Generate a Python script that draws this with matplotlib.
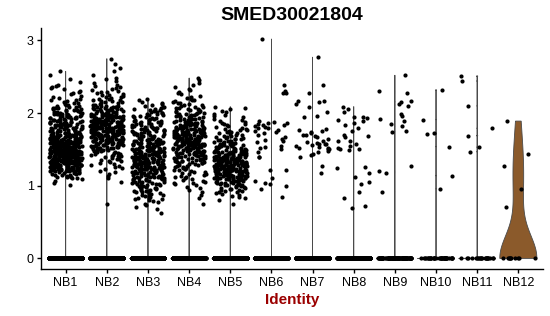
import numpy as np
import matplotlib
matplotlib.use("Agg")
import matplotlib.pyplot as plt

plt.rcParams['font.family'] = ['Liberation Sans', 'DejaVu Sans']

########################################
## DATA
########################################
gene = "SMED30021804"
clusters = ["NB1", "NB2", "NB3", "NB4", "NB5", "NB6",
            "NB7", "NB8", "NB9", "NB10", "NB11", "NB12"]

# cells with zero expression per cluster (estimated)
zero_counts = [3000, 2500, 2500, 2500, 2500, 800, 600, 500, 100, 40, 22, 10]

# dense clusters: number of expressing cells per 0.1-wide bin (bin start -> count)
nb1_bins = {1.0: 4, 1.1: 18, 1.2: 45, 1.3: 70, 1.4: 80, 1.5: 70, 1.6: 45,
            1.7: 30, 1.8: 28, 1.9: 25, 2.0: 18, 2.1: 10, 2.2: 6, 2.3: 6,
            2.4: 2, 2.5: 2}
nb2_bins = {0.7: 1, 1.0: 1, 1.1: 4, 1.2: 6, 1.3: 10, 1.4: 16, 1.5: 30,
            1.6: 42, 1.7: 50, 1.8: 48, 1.9: 38, 2.0: 25, 2.1: 14, 2.2: 10,
            2.3: 7, 2.4: 4, 2.5: 2, 2.6: 2, 2.7: 1}
nb3_bins = {0.6: 2, 0.7: 5, 0.8: 12, 0.9: 16, 1.0: 20, 1.1: 28, 1.2: 35,
            1.3: 42, 1.4: 38, 1.5: 30, 1.6: 25, 1.7: 22, 1.8: 18, 1.9: 15,
            2.0: 12, 2.1: 6}
nb4_bins = {0.7: 1, 0.8: 2, 0.9: 4, 1.0: 8, 1.1: 10, 1.2: 14, 1.3: 22,
            1.4: 32, 1.5: 40, 1.6: 42, 1.7: 36, 1.8: 28, 1.9: 20, 2.0: 14,
            2.1: 10, 2.2: 6, 2.3: 4, 2.4: 3}
nb5_bins = {0.7: 1, 0.8: 6, 0.9: 14, 1.0: 28, 1.1: 42, 1.2: 50, 1.3: 45,
            1.4: 35, 1.5: 22, 1.6: 15, 1.7: 12, 1.8: 8, 1.9: 6, 2.0: 5}

# sparse clusters: individual expressing cells
nb6_values = [3.02, 2.39, 2.30, 2.28, 2.27, 1.87, 1.84, 1.85, 1.89, 1.88,
              1.86, 1.84, 1.82, 1.80, 1.77, 1.74, 1.76, 1.79, 1.73, 1.70,
              1.81, 1.63, 1.61, 1.67, 1.64, 1.60, 1.55, 1.52, 1.53, 1.51,
              1.47, 1.40, 1.39, 1.22, 1.21, 1.10, 1.07, 1.03, 1.04, 0.99,
              0.96, 0.84]
nb7_values = [2.77, 2.39, 2.27, 2.17, 2.16, 2.15, 2.13, 2.09, 2.01, 1.96,
              1.94, 1.78, 1.74, 1.77, 1.75, 1.72, 1.70, 1.69, 1.70, 1.67,
              1.64, 1.62, 1.60, 1.59, 1.57, 1.58, 1.57, 1.56, 1.55, 1.52,
              1.53, 1.52, 1.51, 1.50, 1.48, 1.47, 1.44, 1.43, 1.40, 1.27,
              1.17]
nb8_values = [2.09, 2.06, 2.01, 1.94, 1.95, 1.93, 1.90, 1.89, 1.86, 1.83,
              1.79, 1.75, 1.70, 1.67, 1.68, 1.62, 1.61, 1.57, 1.55, 1.52,
              1.51, 1.50, 1.49, 1.26, 1.24, 1.17, 1.12, 1.05, 1.02, 0.92,
              0.83, 0.72, 0.70]
nb9_values = [2.52, 2.28, 2.30, 2.16, 2.12, 2.10, 2.15, 1.96, 1.92, 1.89,
              1.85, 1.99, 1.82, 1.74, 1.75, 1.27, 1.20, 1.18, 0.92]
nb10_values = [2.32, 1.91, 1.72, 1.71, 1.54, 1.14, 0.96]
nb11_values = [2.51, 2.44, 2.10, 1.79, 1.69, 1.53, 1.47]
nb12_values = [1.89, 1.44, 1.27, 0.95, 0.71]

violin_fills = ['#8c8c8c'] * 11 + ['#8B5A2B']


def expand_bins(bins, width=0.1):
    vals = []
    for lo, n in bins.items():
        vals.extend(lo + (np.arange(n) + 0.5) / n * width)
    return vals


def bw_nrd0(x):
    # R's bw.nrd0; Seurat adds tiny noise, so an IQR of 0 becomes ~1e-5
    hi = np.std(x, ddof=1)
    q75, q25 = np.percentile(x, [75, 25])
    lo = min(hi, (q75 - q25) / 1.34)
    if lo == 0:
        lo = 1e-5
    return 0.9 * lo * len(x) ** -0.2


def r_density(x, n=512):
    # binned gaussian KDE like stats::density, trimmed to data range
    bw = bw_nrd0(x)
    lo, up = x.min() - 4 * bw, x.max() + 4 * bw
    delta = (up - lo) / (n - 1)
    pos = (x - lo) / delta
    ix = np.floor(pos).astype(int)
    fx = pos - ix
    y = np.zeros(n + 1)
    np.add.at(y, ix, 1 - fx)
    np.add.at(y, np.minimum(ix + 1, n), fx)
    y = y[:n] / len(x)
    k = np.arange(-(n - 1), n) * delta
    kern = np.exp(-0.5 * (k / bw) ** 2) / (bw * np.sqrt(2 * np.pi))
    dens = np.convolve(y, kern, mode='full')[n - 1:2 * n - 1]
    xords = np.linspace(lo, up, n)
    xout = np.linspace(x.min(), x.max(), n)
    return xout, np.interp(xout, xords, dens)


def jitter(n, seed, amount=0.4):
    i = np.arange(n, dtype=float)
    u = np.sin(i * 12.9898 + seed * 78.233) * 43758.5453
    return (u - np.floor(u) - 0.5) * 2 * amount


nonzero = [expand_bins(nb1_bins), expand_bins(nb2_bins), expand_bins(nb3_bins),
           expand_bins(nb4_bins), expand_bins(nb5_bins), nb6_values, nb7_values,
           nb8_values, nb9_values, nb10_values, nb11_values, nb12_values]

fig = plt.figure(figsize=(5.5, 3.16), dpi=100)
ax = fig.add_axes([0.0745, 0.1475, 0.9128, 0.7639])

all_data = []
for i, (n0, vals) in enumerate(zip(zero_counts, nonzero)):
    data = np.concatenate([np.zeros(n0), np.array(vals, dtype=float)])
    all_data.append(data)
    ys, dens = r_density(data)
    hw = 0.45 * dens / dens.max()
    c = i + 1
    ax.fill(np.concatenate([c - hw, (c + hw)[::-1]]),
            np.concatenate([ys, ys[::-1]]),
            facecolor=violin_fills[i], edgecolor='#4a4a4a', linewidth=0.6,
            zorder=2)

for i, data in enumerate(all_data):
    ax.scatter(i + 1 + jitter(len(data), i + 1), data, s=9, c='black',
               linewidths=0, zorder=3)

ymax = max(d.max() for d in all_data)
ax.set_ylim(-0.05 * ymax, ymax * 1.05)
ax.set_xlim(0.4, len(clusters) + 0.6)
ax.set_xticks(range(1, len(clusters) + 1))
ax.set_xticklabels(clusters)
ax.set_yticks([0, 1, 2, 3])

for side in ['top', 'right']:
    ax.spines[side].set_visible(False)
for side in ['left', 'bottom']:
    ax.spines[side].set_linewidth(1.0)
ax.tick_params(axis='both', length=3.2, width=1.0, pad=2, labelsize=9,
               colors='black')

fig.text(0.531, 0.952, gene, ha='center', va='center', fontsize=14,
         fontweight='bold')
fig.text(0.531, 0.051, "Identity", ha='center', va='center', fontsize=11,
         fontweight='bold', color='#9B0000')

fig.savefig("out.png", dpi=100)
